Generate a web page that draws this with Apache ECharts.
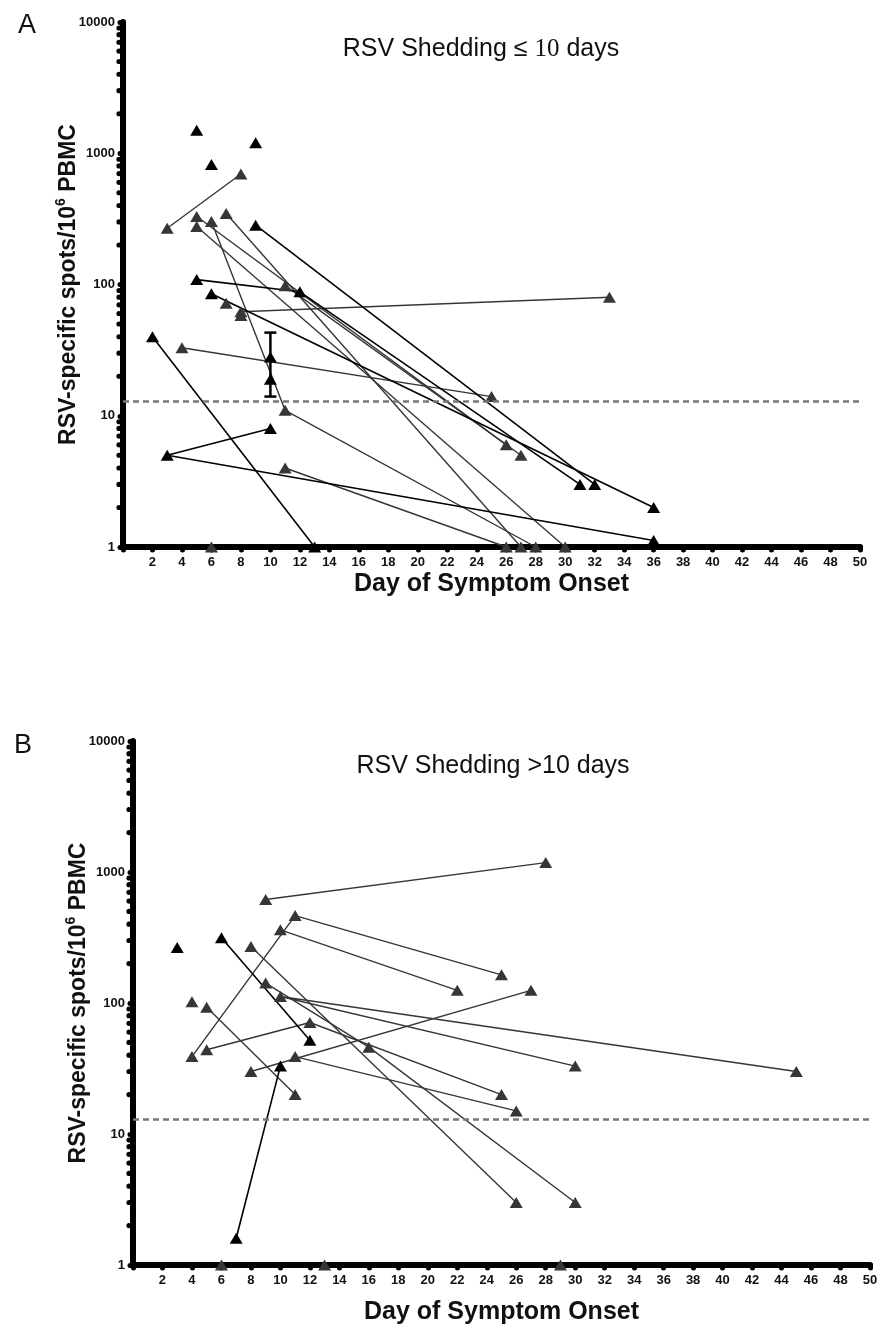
<!DOCTYPE html>
<html>
<head>
<meta charset="utf-8">
<script src="https://cdn.jsdelivr.net/npm/echarts@6/dist/echarts.min.js"></script>
<style>
html,body{margin:0;padding:0;background:#fff}
#main{width:881px;height:1336px}
</style>
</head>
<body>
<div id="main"></div>
<script>
// panel A - RSV shedding <= 10 days, one entry per subject: [day, spots]
var aBlack = [
    [[5, 1500]],
    [[9, 1200]],
    [[6, 820]],
    [[9, 283], [32, 3]],
    [[5, 109], [12, 88], [31, 3]],
    [[6, 85], [36, 2]],
    [[2, 40], [13, 1]],
    [[10, 8], [3, 5], [36, 1.12]],
    [[10, 28]],
    [[10, 19]]
];
var aGray = [
    [[8, 695], [3, 268]],
    [[5, 330], [26, 6]],
    [[11, 98], [27, 5]],
    [[5, 277], [30, 1]],
    [[7, 348], [27, 1]],
    [[6, 302], [11, 11], [28, 1]],
    [[7, 72]],
    [[8, 62], [33, 80]],
    [[8, 58]],
    [[11, 4], [26, 1]],
    [[4, 33], [25, 14]],
    [[6, 1]]
];
var aErrBar = [[10, 14, 43]];   // day, low, high

// panel B - RSV shedding > 10 days
var bBlack = [
    [[3, 265]],
    [[6, 315], [12, 52]],
    [[7, 1.6], [10, 33]]
];
var bGray = [
    [[9, 617], [28, 1180]],
    [[4, 39], [11, 465], [25, 164]],
    [[10, 362], [22, 125]],
    [[8, 270], [26, 3]],
    [[9, 142], [16, 46], [30, 3]],
    [[45, 30], [10, 112], [30, 33]],
    [[5, 93], [11, 20]],
    [[5, 44], [12, 71], [25, 20]],
    [[8, 30], [27, 125]],
    [[11, 39], [26, 15]],
    [[4, 102]],
    [[6, 1]],
    [[13, 1]],
    [[29, 1]]
];

var cutoff = 13;
var decades = [1, 10, 100, 1000];
var minorSteps = [2, 3, 4, 5, 6, 7, 8, 9];

var BLACK = '#000';
var GRAY = '#363636';
var FONT = 'Liberation Sans, Arial, sans-serif';

var myChart = echarts.init(document.getElementById('main'));

var minorVals = [];
decades.forEach(function (d) {
    minorSteps.forEach(function (m) { minorVals.push([0, d * m]); });
});

var subjSeries = function (list, color, width, idx) {
    return list.map(function (pts) {
        return {
            type: 'line',
            xAxisIndex: idx,
            yAxisIndex: idx,
            data: pts,
            symbol: 'triangle',
            symbolSize: [13, 11],
            itemStyle: { color: color },
            lineStyle: { color: color, width: width },
            z: 4,
            silent: true,
            animation: false
        };
    });
};

var minorTickSeries = function (idx) {
    return {
        type: 'custom',
        xAxisIndex: idx,
        yAxisIndex: idx,
        data: minorVals,
        silent: true,
        z: 6,
        renderItem: function (params, api) {
            var p = api.coord([api.value(0), api.value(1)]);
            return {
                type: 'circle',
                shape: { cx: p[0] - 4, cy: p[1], r: 2.6 },
                style: { fill: '#000' }
            };
        }
    };
};

var cutoffSeries = function (idx) {
    return {
        type: 'line',
        xAxisIndex: idx,
        yAxisIndex: idx,
        data: [],
        z: 2,
        markLine: {
            silent: true,
            symbol: ['none', 'none'],
            label: { show: false },
            lineStyle: { color: '#777', width: 2.5, type: [6, 4] },
            data: [{ yAxis: cutoff }]
        }
    };
};

var xAx = function (idx, gap) {
    return {
        type: 'value',
        gridIndex: idx,
        min: 0,
        max: 50,
        interval: 2,
        name: 'Day of Symptom Onset',
        nameLocation: 'middle',
        nameGap: gap,
        nameMoveOverlap: false,
        nameTextStyle: { fontSize: 25, fontWeight: 'bold', color: '#111', fontFamily: FONT },
        axisLine: { onZero: false, lineStyle: { color: '#000', width: 6, cap: 'round' } },
        axisTick: { length: 3, lineStyle: { color: '#000', width: 5, cap: 'round' } },
        axisLabel: {
            margin: 9, fontSize: 13, fontWeight: 'bold', color: '#111', fontFamily: FONT,
            formatter: function (v) { return v === 0 ? '' : String(v); }
        },
        splitLine: { show: false }
    };
};

var yAx = function (idx) {
    return {
        type: 'log',
        logBase: 10,
        gridIndex: idx,
        min: 1,
        max: 10000,
        name: '{a|RSV-specific spots/10}{s|6}{a| PBMC}',
        nameLocation: 'middle',
        nameRotate: 90,
        nameGap: 43,
        nameMoveOverlap: false,
        nameTextStyle: {
            rich: {
                a: { fontSize: 23, fontWeight: 'bold', color: '#111', fontFamily: FONT, lineHeight: 26, verticalAlign: 'bottom' },
                s: { fontSize: 14, fontWeight: 'bold', color: '#111', fontFamily: FONT, lineHeight: 26, verticalAlign: 'top' }
            }
        },
        axisLine: { onZero: false, lineStyle: { color: '#000', width: 6, cap: 'round' } },
        axisTick: { length: 3, lineStyle: { color: '#000', width: 5, cap: 'round' } },
        axisLabel: {
            margin: 8, fontSize: 13, fontWeight: 'bold', color: '#111', fontFamily: FONT,
            formatter: function (v) { return String(v); }
        },
        splitLine: { show: false }
    };
};

var errBarSeries = {
    type: 'custom',
    xAxisIndex: 0,
    yAxisIndex: 0,
    data: aErrBar,
    encode: { x: 0, y: [1, 2] },
    silent: true,
    z: 5,
    renderItem: function (params, api) {
        var lo = api.coord([api.value(0), api.value(1)]);
        var hi = api.coord([api.value(0), api.value(2)]);
        var w = 6;
        var st = { stroke: '#000', lineWidth: 2.5 };
        return {
            type: 'group',
            children: [
                { type: 'line', shape: { x1: lo[0], y1: lo[1], x2: hi[0], y2: hi[1] }, style: st },
                { type: 'line', shape: { x1: lo[0] - w, y1: lo[1], x2: lo[0] + w, y2: lo[1] }, style: st },
                { type: 'line', shape: { x1: hi[0] - w, y1: hi[1], x2: hi[0] + w, y2: hi[1] }, style: st }
            ]
        };
    }
};

var series = [cutoffSeries(0), cutoffSeries(1), minorTickSeries(0), minorTickSeries(1), errBarSeries]
    .concat(subjSeries(aGray, GRAY, 1.4, 0))
    .concat(subjSeries(aBlack, BLACK, 1.6, 0))
    .concat(subjSeries(bGray, GRAY, 1.4, 1))
    .concat(subjSeries(bBlack, BLACK, 1.6, 1));

var option = {
    animation: false,
    backgroundColor: '#fff',
    title: [
        { text: 'A', left: 13, top: 7, textStyle: { fontSize: 27, fontWeight: 'normal', color: '#111', fontFamily: FONT } },
        {
            text: '{t|RSV Shedding \u2264 }{n|10}{t| days}',
            left: 476, top: 32, textAlign: 'center',
            textStyle: {
                fontWeight: 'normal',
                rich: {
                    t: { fontSize: 25, fontWeight: 'normal', color: '#111', fontFamily: FONT },
                    n: { fontSize: 25, fontWeight: 'normal', color: '#111', fontFamily: 'Liberation Serif, serif' }
                }
            }
        },
        { text: 'B', left: 9, top: 727, textStyle: { fontSize: 27, fontWeight: 'normal', color: '#111', fontFamily: FONT } },
        {
            text: 'RSV Shedding >10 days',
            left: 488, top: 749, textAlign: 'center',
            textStyle: { fontSize: 25, fontWeight: 'normal', color: '#111', fontFamily: FONT }
        }
    ],
    grid: [
        { left: 123, right: 21, top: 22, bottom: 789 },
        { left: 133, right: 11, top: 741, bottom: 71 }
    ],
    xAxis: [xAx(0, 25), xAx(1, 35)],
    yAxis: [yAx(0), yAx(1)],
    series: series
};
myChart.setOption(option);
</script>
</body>
</html>
